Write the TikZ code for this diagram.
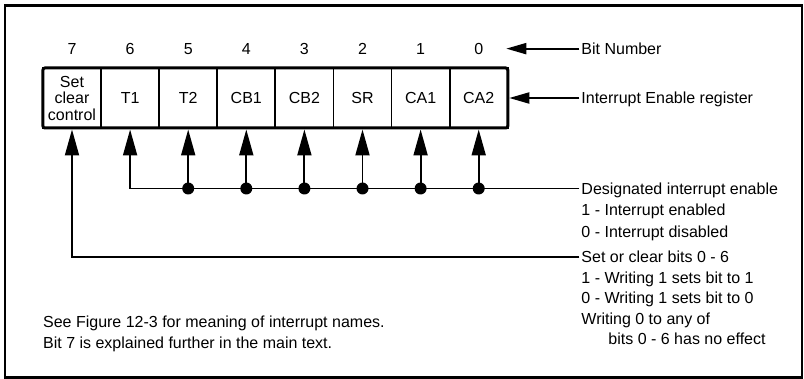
\documentclass[tikz,border=0pt]{standalone}
\usepackage{fontspec}
\setmainfont{Liberation Sans}
\usetikzlibrary{arrows.meta,positioning,calc,fit}
\newcommand{\RegTextFont}{\fontsize{16pt}{20.5pt}\selectfont}
\newcommand{\RegCellFont}{\fontsize{16pt}{16.5pt}\selectfont}
\tikzset{
  every node/.style={align=center},
  line cap=round,
  %% register cells
  cellBlk/.style={
    draw,
    line width=1.8pt,
    minimum width=58.1pt,
    minimum height=60pt,
    inner sep=0pt,
    outer sep=0pt,
    font=\RegCellFont,
  },
  regBox/.style={
    draw,
    line width=3pt,
    rounded corners=2pt,
    inner sep=0pt,
  },
  %% labels
  bitNum/.style={inner sep=0pt, font=\RegTextFont},
  tagTxt/.style={
    inner xsep=2pt, inner ysep=0pt,
    text height=11.5pt, text depth=0pt,
    anchor=west,
    font=\RegTextFont,
  },
  noteTxt/.style={
    inner xsep=2pt, inner ysep=0pt,
    align=left,
    anchor=north west,
    font=\RegTextFont,
  },
  %% arrows
  upArr/.style={-{Triangle[length=26pt,width=14pt]}, line width=1.9pt},
  inArr/.style={-{Triangle[length=20pt,width=11pt]}, line width=1.9pt},
  junction/.style={circle, fill, inner sep=0pt, minimum size=12pt},
}

\begin{document}
\begin{tikzpicture}[x=1pt,y=1pt]

\useasboundingbox (0,0) rectangle (804,-379);
\draw[line width=2.2pt] (5,-5.5) rectangle (802,-377.5);

%% ── Register cells ─────────────────────────────────────────────────────────
\node[cellBlk] (c7) at (72,-98) {Set\\clear\\control};
\node[cellBlk, right=0pt of c7] (c6) {T1};
\node[cellBlk, right=0pt of c6] (c5) {T2};
\node[cellBlk, right=0pt of c5] (c4) {CB1};
\node[cellBlk, right=0pt of c4] (c3) {CB2};
\node[cellBlk, right=0pt of c3] (c2) {SR};
\node[cellBlk, right=0pt of c2] (c1) {CA1};
\node[cellBlk, right=0pt of c1] (c0) {CA2};
\node[regBox, fit=(c7)(c0)] (reg) {};

%% ── Bit numbers ────────────────────────────────────────────────────────────
\node[bitNum, above=13.5pt of c7] (b7) {7};
\node[bitNum, above=13.5pt of c6] (b6) {6};
\node[bitNum, above=13.5pt of c5] (b5) {5};
\node[bitNum, above=13.5pt of c4] (b4) {4};
\node[bitNum, above=13.5pt of c3] (b3) {3};
\node[bitNum, above=13.5pt of c2] (b2) {2};
\node[bitNum, above=13.5pt of c1] (b1) {1};
\node[bitNum, above=13.5pt of c0] (b0) {0};

%% ── Right-hand labels ──────────────────────────────────────────────────────
\coordinate (txtX) at ([xshift=70pt]reg.east);
\node[tagTxt] (bitLbl) at (txtX |- b0) {Bit Number};
\node[tagTxt] (ierLbl) at (txtX |- reg) {Interrupt Enable register};
\draw[inArr] (bitLbl.west) -- ([xshift=-3pt]reg.east |- bitLbl.west);
\draw[inArr] (ierLbl.west) -- (reg.east);

%% ── Enable bus (bits 6 - 0) ────────────────────────────────────────────────
\coordinate (bus) at ([yshift=-59pt]reg.south);
\node[noteTxt] (dieTxt) at ([yshift=5.8pt]txtX |- bus) {%
  Designated interrupt enable\\[1pt]
  1 - Interrupt enabled\\[1pt]
  0 - Interrupt disabled};
\draw[upArr] (dieTxt.west |- bus) -| (c6 |- reg.south);
\draw[upArr] (c5 |- bus) -- (c5 |- reg.south);
\draw[upArr] (c4 |- bus) -- (c4 |- reg.south);
\draw[upArr] (c3 |- bus) -- (c3 |- reg.south);
\draw[upArr] (c2 |- bus) -- (c2 |- reg.south);
\draw[upArr] (c1 |- bus) -- (c1 |- reg.south);
\draw[upArr] (c0 |- bus) -- (c0 |- reg.south);
\node[junction] (j5) at (c5 |- bus) {};
\node[junction] (j4) at (c4 |- bus) {};
\node[junction] (j3) at (c3 |- bus) {};
\node[junction] (j2) at (c2 |- bus) {};
\node[junction] (j1) at (c1 |- bus) {};
\node[junction] (j0) at (c0 |- bus) {};

%% ── Set / clear control (bit 7) ────────────────────────────────────────────
\coordinate (setClr) at ([yshift=-127.5pt]reg.south);
\node[noteTxt] (scTxt) at ([yshift=5.8pt]txtX |- setClr) {%
  Set or clear bits 0 - 6\\
  1 - Writing 1 sets bit to 1\\
  0 - Writing 1 sets bit to 0\\
  Writing 0 to any of\\
  \hspace*{27pt}bits 0 - 6 has no effect};
\draw[upArr] (scTxt.west |- setClr) -| (c7 |- reg.south);

%% ── Footnote ───────────────────────────────────────────────────────────────
\node[noteTxt, inner xsep=0pt] (seeTxt) at ([yshift=-188pt]c7.south west) {%
  See Figure 12-3 for meaning of interrupt names.\\
  Bit 7 is explained further in the main text.};

\end{tikzpicture}
\end{document}
